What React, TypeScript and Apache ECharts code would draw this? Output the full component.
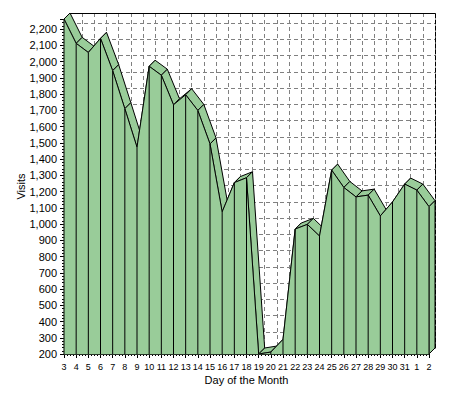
import { useEffect, useRef } from 'react';
import * as echarts from 'echarts';

// day labels along the bottom (month wraps after 31)
const days = [
  '3', '4', '5', '6', '7', '8', '9', '10', '11', '12', '13', '14', '15', '16', '17', '18',
  '19', '20', '21', '22', '23', '24', '25', '26', '27', '28', '29', '30', '31', '1', '2',
];

const visits = [
  2262, 2112, 2056, 2143, 1944, 1710, 1473, 1971, 1916, 1734, 1796, 1699, 1493, 1075, 1255, 1285,
  200, 212, 290, 969, 998, 926, 1332, 1225, 1167, 1178, 1050, 1136, 1246, 1209, 1107,
];

const Y_MIN = 200;
const Y_MAX = 2262;
const Y_STEP = 100;

const GREEN = '#99CC99';
const DEPTH = 6;
const FONT = 'Liberation Sans';

const back = (p: number[]) => [p[0] + DEPTH, p[1] - DEPTH];

const App = () => {
  const ref = useRef<HTMLDivElement>(null);

  useEffect(() => {
    if (!ref.current) return;
    const chart = echarts.init(ref.current, undefined, { renderer: 'svg' });
    const last = visits.length - 1;
    const seriesData = visits.map((v, i) => [i, v]);

    chart.setOption({
      animation: false,
      grid: [
        { left: 64, top: 19, width: 365, height: 335 },
        { left: 64 + DEPTH, top: 19 - DEPTH, width: 365, height: 335 },
      ],
      xAxis: [
        {
          type: 'value',
          gridIndex: 0,
          min: 0,
          max: last,
          interval: 1,
          name: 'Day of the Month',
          nameLocation: 'middle',
          nameGap: 20,
          nameMoveOverlap: false,
          nameTextStyle: { fontFamily: FONT, fontSize: 11, color: '#000' },
          axisLine: { onZero: false, lineStyle: { color: '#000', width: 1 } },
          axisTick: { length: 4, lineStyle: { color: '#000' } },
          minorTick: { show: true, splitNumber: 4, length: 2, lineStyle: { color: '#000' } },
          axisLabel: {
            margin: 8,
            fontFamily: FONT,
            fontSize: 9,
            color: '#000',
            formatter: (v: number) => days[v] ?? '',
          },
          splitLine: { show: false },
        },
        {
          type: 'value',
          gridIndex: 1,
          position: 'top',
          min: 0,
          max: last,
          interval: 1,
          axisLine: { onZero: false, lineStyle: { color: '#000', width: 1 } },
          axisTick: { show: false },
          axisLabel: { show: false },
          splitLine: { lineStyle: { color: '#808080', type: [4, 3] } },
        },
      ],
      yAxis: [
        {
          type: 'value',
          gridIndex: 0,
          min: Y_MIN,
          max: Y_MAX,
          interval: Y_STEP,
          name: 'Visits',
          nameLocation: 'middle',
          nameGap: 38,
          nameMoveOverlap: false,
          nameTextStyle: { fontFamily: FONT, fontSize: 11, color: '#000' },
          axisLine: { show: true, onZero: false, lineStyle: { color: '#000', width: 1 } },
          axisTick: { show: true, length: 4, lineStyle: { color: '#000' } },
          minorTick: { show: true, splitNumber: 5, length: 2, lineStyle: { color: '#000' } },
          axisLabel: {
            margin: 7,
            fontFamily: FONT,
            fontSize: 11,
            color: '#000',
            showMaxLabel: false,
            formatter: (v: number) => v.toLocaleString('en-US'),
          },
          splitLine: { show: false },
        },
        {
          // back wall grid lines
          type: 'value',
          gridIndex: 1,
          position: 'left',
          min: Y_MIN,
          max: Y_MAX,
          interval: Y_STEP,
          axisLine: { show: false },
          axisTick: { show: false },
          axisLabel: { show: false },
          splitLine: { lineStyle: { color: '#808080', type: [4, 3] } },
        },
        {
          // back right edge, drawn over the side face
          type: 'value',
          gridIndex: 1,
          position: 'right',
          min: Y_MIN,
          max: Y_MAX,
          interval: Y_STEP,
          z: 10,
          axisLine: {
            show: true,
            onZero: false,
            lineStyle: { color: '#000', width: 1, type: [4, 2] },
          },
          axisTick: { show: false },
          axisLabel: { show: false },
          splitLine: { show: false },
        },
      ],
      series: [
        {
          // top faces (depth band) and right side face
          type: 'custom',
          xAxisIndex: 0,
          yAxisIndex: 0,
          z: 2,
          data: seriesData,
          encode: { x: 0, y: 1 },
          renderItem: (_params: any, api: any) => {
            const i = api.value(0);
            const p0 = api.coord([i, api.value(1)]);
            const style = { fill: GREEN, stroke: '#000', lineWidth: 1 };
            if (i >= last) {
              const b = api.coord([i, Y_MIN]);
              return {
                type: 'polygon',
                shape: { points: [p0, back(p0), back(b), b] },
                style,
              };
            }
            const p1 = api.coord([i + 1, visits[i + 1]]);
            return {
              type: 'polygon',
              shape: { points: [p0, p1, back(p1), back(p0)] },
              style,
            };
          },
        },
        {
          // front faces with drop lines
          type: 'custom',
          xAxisIndex: 0,
          yAxisIndex: 0,
          z: 3,
          data: seriesData,
          encode: { x: 0, y: 1 },
          renderItem: (_params: any, api: any) => {
            const i = api.value(0);
            const p0 = api.coord([i, api.value(1)]);
            const b0 = api.coord([i, Y_MIN]);
            const drop = {
              type: 'line',
              shape: { x1: p0[0], y1: p0[1], x2: b0[0], y2: b0[1] },
              style: { stroke: '#000', lineWidth: 1 },
              z2: 2,
            };
            if (i >= last) return { type: 'group', children: [drop] };
            const p1 = api.coord([i + 1, visits[i + 1]]);
            const b1 = api.coord([i + 1, Y_MIN]);
            return {
              type: 'group',
              children: [
                {
                  type: 'polygon',
                  shape: { points: [p0, p1, b1, b0] },
                  style: { fill: GREEN, stroke: GREEN, lineWidth: 0.5 },
                },
                {
                  type: 'line',
                  shape: { x1: p0[0], y1: p0[1], x2: p1[0], y2: p1[1] },
                  style: { stroke: '#000', lineWidth: 1 },
                  z2: 1,
                },
                drop,
              ],
            };
          },
        },
      ],
    });

    return () => chart.dispose();
  }, []);

  return (
    <div
      ref={ref}
      style={{ position: 'absolute', left: 0, top: 0, width: 450, height: 400 }}
    />
  );
};

export default App;
